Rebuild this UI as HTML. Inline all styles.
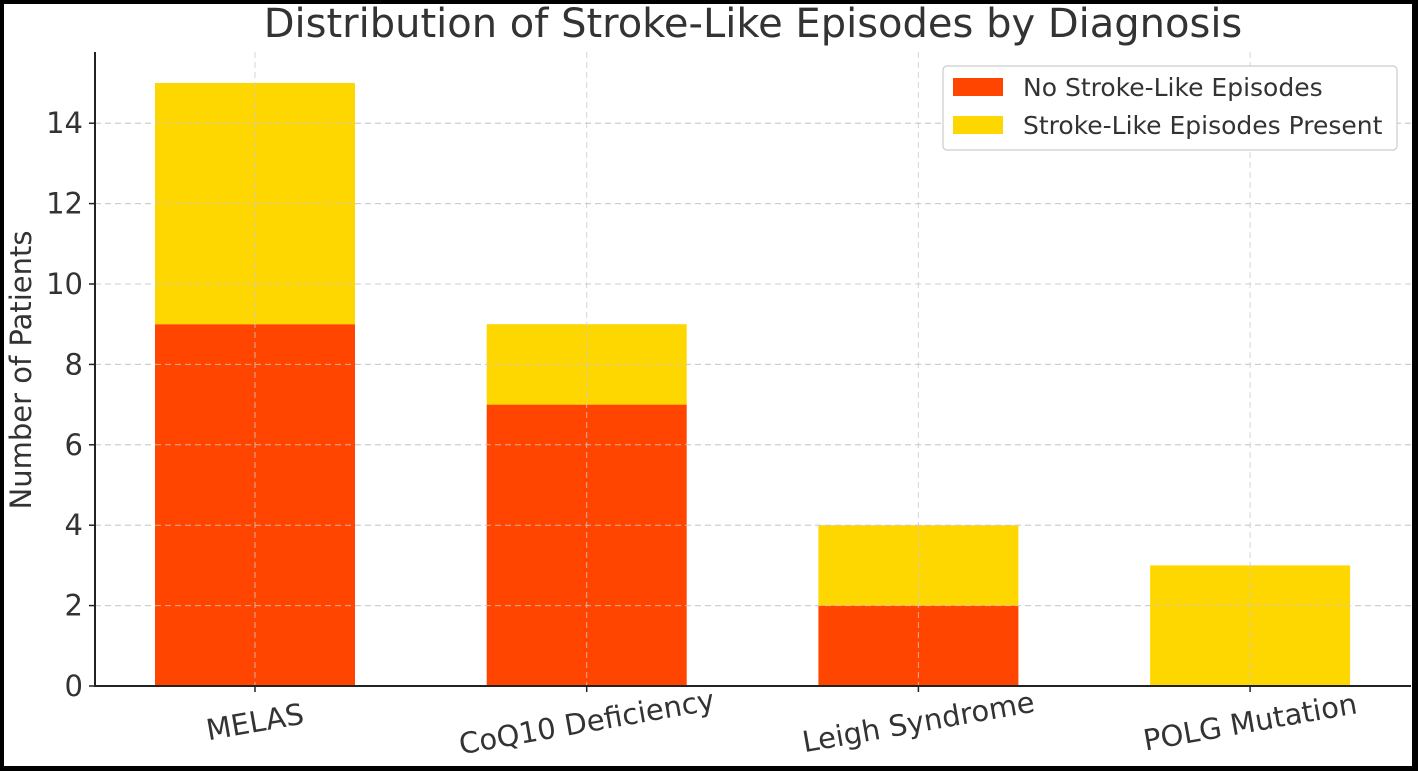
<!DOCTYPE html>
<html><head><meta charset="utf-8"><style>
html,body{margin:0;padding:0;background:#000;}
#wrap{position:absolute;left:0;top:0;width:1418px;height:771px;background:#000;}
svg{position:absolute;left:4px;top:4px;}
text{font-family:"DejaVu Sans","Liberation Sans",sans-serif;fill:#333;}
</style></head><body>
<div id="wrap">
<svg id="chart" width="1408" height="762" viewBox="4 4 1408 762">
<rect x="4" y="4" width="1408" height="762" fill="#fff"/>
</svg></div>
<script>
const categories=["MELAS","CoQ10 Deficiency","Leigh Syndrome","POLG Mutation"];
const noEpisodes=[9,7,2,0];
const episodesPresent=[6,2,2,3];
const yTicks=[0,2,4,6,8,10,12,14];
const seriesNames=["No Stroke-Like Episodes","Stroke-Like Episodes Present"];
const colors=["#FF4500","#FFD700"];
const NS="http://www.w3.org/2000/svg";
const svg=document.getElementById('chart');
const L=95,R=1411,T=52,B=686;
const y=v=>B-v*40.2;
const x=i=>255+i*331.7;
const bw=200;
function mk(tag,attrs,parent){const e=document.createElementNS(NS,tag);for(const k in attrs)e.setAttribute(k,attrs[k]);(parent||svg).appendChild(e);return e;}
yTicks.forEach(t=>{const g=mk('line',{x1:L,x2:R,y1:y(t),y2:y(t),stroke:'#ccc','stroke-dasharray':'6,4','stroke-width':1});

});
categories.forEach((c,i)=>{
 const a=noEpisodes[i],b=episodesPresent[i];
 if(a>0){const r=mk('rect',{x:x(i)-bw/2,y:y(a),width:bw,height:y(0)-y(a),fill:colors[0]});
 
 }
 if(b>0){const r=mk('rect',{x:x(i)-bw/2,y:y(a+b),width:bw,height:y(a)-y(a+b),fill:colors[1]});
 
 }
});
categories.forEach((c,i)=>{const g=mk('line',{x1:x(i),x2:x(i),y1:T,y2:B,stroke:'#ccc','stroke-dasharray':'6,4','stroke-width':1,opacity:0.8});

});
yTicks.forEach(t=>{const g=mk('line',{x1:L,x2:R,y1:y(t),y2:y(t),stroke:'#ccc','stroke-dasharray':'6,4','stroke-width':1,opacity:0.8});

});
let ax=mk('line',{x1:L,x2:L,y1:T,y2:B+1,stroke:'#222','stroke-width':2});


ax=mk('line',{x1:L,x2:R,y1:B,y2:B,stroke:'#222','stroke-width':2});


yTicks.forEach(t=>{
 const tk=mk('line',{x1:L-6,x2:L,y1:y(t),y2:y(t),stroke:'#222','stroke-width':1.5});
 
 
 const tx=mk('text',{x:L-12,y:y(t)+10,'text-anchor':'end','font-size':29});
 tx.textContent=t;
 
 
});
categories.forEach((c,i)=>{
 const tk=mk('line',{x1:x(i),x2:x(i),y1:B,y2:B+6,stroke:'#222','stroke-width':1.5});
 
 
 const tx=mk('text',{x:x(i),y:B+46,'text-anchor':'middle','font-size':29,transform:`rotate(-10 ${x(i)} ${B+36})`});
 tx.textContent=c;
 
 
});
let t=mk('text',{x:753,y:37,'text-anchor':'middle','font-size':40});
t.textContent="Distribution of Stroke-Like Episodes by Diagnosis";


t=mk('text',{x:31,y:370,'text-anchor':'middle','font-size':29,transform:'rotate(-90 31 370)'});
t.textContent="Number of Patients";


const lg=mk('g',{});


const lb=mk('rect',{x:943,y:66,width:454,height:84,rx:4,fill:'#fff',stroke:'#ccc','stroke-width':1.2},lg);


seriesNames.forEach((n,i)=>{
 const sw=mk('rect',{x:953,y:78+i*38,width:50,height:18,fill:colors[i]},lg);
 
 
 const tx=mk('text',{x:1023,y:96+i*38,'font-size':25},lg);
 tx.textContent=n;
 
 
});
</script>
</body></html>
